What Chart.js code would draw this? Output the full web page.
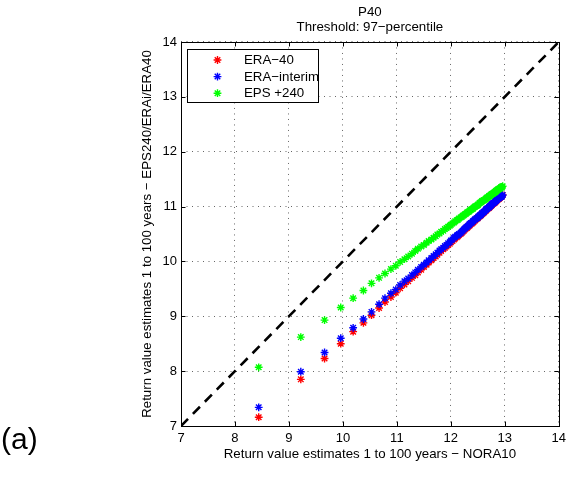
<!DOCTYPE html>
<html>
<head>
<meta charset="utf-8">
<script src="https://cdn.jsdelivr.net/npm/chart.js@4/dist/chart.umd.min.js"></script>
<style>
  html, body { margin: 0; padding: 0; background: #fff; }
  #wrap { position: relative; width: 571px; height: 491px; }
  #panel { position: absolute; left: 1px; top: 422px; font: 30px "Liberation Sans", Arial, sans-serif; color: #000; }
</style>
</head>
<body>
<div id="wrap">
  <canvas id="c" width="571" height="491"></canvas>
  <div id="panel">(a)</div>
</div>
<script>
// Return value estimates for return periods of 1 to 100 years.
// x: NORA10 hindcast; y: ERA-40, ERA-interim and EPS +240 estimates.
const noraX = [
  8.44, 9.22, 9.66, 9.96, 10.19, 10.38, 10.53, 10.67, 10.78, 10.89,
  10.98, 11.06, 11.14, 11.21, 11.28, 11.34, 11.39, 11.45, 11.50, 11.55,
  11.59, 11.64, 11.68, 11.72, 11.75, 11.79, 11.82, 11.86, 11.89, 11.92,
  11.95, 11.98, 12.00, 12.03, 12.06, 12.08, 12.11, 12.13, 12.15, 12.18,
  12.20, 12.22, 12.24, 12.26, 12.28, 12.30, 12.32, 12.34, 12.35, 12.37,
  12.39, 12.41, 12.42, 12.44, 12.45, 12.47, 12.49, 12.50, 12.51, 12.53,
  12.54, 12.56, 12.57, 12.58, 12.60, 12.61, 12.62, 12.64, 12.65, 12.66,
  12.67, 12.68, 12.70, 12.71, 12.72, 12.73, 12.74, 12.75, 12.76, 12.77,
  12.78, 12.80, 12.81, 12.82, 12.83, 12.83, 12.84, 12.85, 12.86, 12.87,
  12.88, 12.89, 12.90, 12.91, 12.92, 12.93, 12.94, 12.94, 12.95, 12.96
];
const era40Y = [
  7.16, 7.85, 8.23, 8.50, 8.72, 8.88, 9.02, 9.15, 9.26, 9.35,
  9.43, 9.51, 9.58, 9.64, 9.70, 9.75, 9.80, 9.85, 9.90, 9.94,
  9.98, 10.02, 10.06, 10.09, 10.12, 10.16, 10.19, 10.22, 10.25, 10.27,
  10.30, 10.32, 10.35, 10.37, 10.40, 10.42, 10.44, 10.46, 10.48, 10.50,
  10.52, 10.54, 10.56, 10.58, 10.60, 10.61, 10.63, 10.65, 10.66, 10.68,
  10.69, 10.71, 10.72, 10.74, 10.75, 10.77, 10.78, 10.79, 10.81, 10.82,
  10.83, 10.84, 10.86, 10.87, 10.88, 10.89, 10.90, 10.92, 10.93, 10.94,
  10.95, 10.96, 10.97, 10.98, 10.99, 11.00, 11.01, 11.02, 11.03, 11.04,
  11.05, 11.06, 11.07, 11.08, 11.09, 11.09, 11.10, 11.11, 11.12, 11.13,
  11.14, 11.14, 11.15, 11.16, 11.17, 11.18, 11.18, 11.19, 11.20, 11.21
];
const eraInterimY = [
  7.34, 7.99, 8.34, 8.60, 8.79, 8.95, 9.08, 9.22, 9.33, 9.42,
  9.49, 9.57, 9.64, 9.69, 9.75, 9.80, 9.85, 9.90, 9.94, 9.98,
  10.02, 10.06, 10.10, 10.13, 10.16, 10.20, 10.22, 10.25, 10.28, 10.30,
  10.33, 10.35, 10.38, 10.40, 10.43, 10.45, 10.47, 10.48, 10.50, 10.52,
  10.54, 10.56, 10.58, 10.60, 10.62, 10.63, 10.65, 10.67, 10.68, 10.70,
  10.71, 10.73, 10.74, 10.76, 10.77, 10.78, 10.79, 10.80, 10.82, 10.83,
  10.84, 10.85, 10.87, 10.88, 10.89, 10.90, 10.91, 10.93, 10.94, 10.95,
  10.96, 10.97, 10.98, 10.99, 11.00, 11.01, 11.02, 11.03, 11.04, 11.05,
  11.06, 11.07, 11.08, 11.09, 11.10, 11.10, 11.11, 11.12, 11.13, 11.14,
  11.15, 11.15, 11.16, 11.17, 11.18, 11.18, 11.18, 11.19, 11.20, 11.21
];
const eps240Y = [
  8.07, 8.62, 8.93, 9.16, 9.33, 9.47, 9.60, 9.70, 9.78, 9.86,
  9.92, 9.99, 10.04, 10.09, 10.14, 10.19, 10.23, 10.27, 10.30, 10.34,
  10.37, 10.40, 10.43, 10.46, 10.49, 10.51, 10.54, 10.56, 10.59, 10.61,
  10.63, 10.65, 10.67, 10.69, 10.71, 10.73, 10.75, 10.76, 10.78, 10.80,
  10.81, 10.83, 10.84, 10.86, 10.87, 10.89, 10.90, 10.91, 10.93, 10.94,
  10.95, 10.96, 10.98, 10.99, 11.00, 11.01, 11.02, 11.03, 11.04, 11.06,
  11.07, 11.08, 11.09, 11.10, 11.11, 11.11, 11.12, 11.13, 11.14, 11.15,
  11.16, 11.17, 11.18, 11.19, 11.19, 11.20, 11.21, 11.22, 11.23, 11.23,
  11.24, 11.25, 11.26, 11.26, 11.27, 11.28, 11.29, 11.29, 11.30, 11.31,
  11.31, 11.32, 11.33, 11.33, 11.34, 11.35, 11.35, 11.36, 11.36, 11.37
];
// 1:1 reference line end points and axis ticks
const diagonal = [7, 14];
const axisTicks = [7, 8, 9, 10, 11, 12, 13, 14];
const seriesLabels = ['ERA\u221240', 'ERA\u2212interim', 'EPS +240'];
const seriesColors = ['#ff0000', '#0000ff', '#00ff00'];

const FONT = '"Liberation Sans", Arial, sans-serif';

function pairs(xs, ys) { return xs.map((x, i) => ({ x: x, y: ys[i] })); }

function starSet(label, ys, color, order) {
  return {
    label: label,
    data: pairs(noraX, ys),
    showLine: false,
    pointStyle: 'star',
    pointRadius: 3.9,
    pointBorderWidth: 1.4,
    borderColor: color,
    backgroundColor: color,
    order: order
  };
}

// Frame, inward tick marks and the boxed legend
const framePlugin = {
  id: 'frame',
  afterDraw(chart) {
    const ctx = chart.ctx;
    const a = chart.chartArea;
    const xs = chart.scales.x, ys = chart.scales.y;
    const tl = 4.5;
    ctx.save();
    ctx.strokeStyle = '#000';
    ctx.lineWidth = 1;
    ctx.beginPath();
    axisTicks.forEach(v => {
      const px = Math.round(xs.getPixelForValue(v)) + 0.5;
      ctx.moveTo(px, a.bottom); ctx.lineTo(px, a.bottom - tl);
      ctx.moveTo(px, a.top); ctx.lineTo(px, a.top + tl);
      const py = Math.round(ys.getPixelForValue(v)) + 0.5;
      ctx.moveTo(a.left, py); ctx.lineTo(a.left + tl, py);
      ctx.moveTo(a.right, py); ctx.lineTo(a.right - tl, py);
    });
    ctx.stroke();
    ctx.strokeRect(Math.round(a.left) + 0.5, Math.round(a.top) + 0.5,
                   Math.round(a.right - a.left), Math.round(a.bottom - a.top));

    // legend box
    const lx = Math.round(a.left) + 6.5, ly = Math.round(a.top) + 7.5;
    const lw = 131, lh = 53;
    ctx.fillStyle = '#fff';
    ctx.fillRect(lx, ly, lw, lh);
    ctx.strokeRect(lx, ly, lw, lh);
    ctx.font = '13.3px ' + FONT;
    ctx.textBaseline = 'middle';
    ctx.textAlign = 'left';
    seriesLabels.forEach((lab, i) => {
      const cy = ly + 10.5 + i * 16.6;
      ctx.strokeStyle = seriesColors[i];
      ctx.lineWidth = 1.4;
      Chart.helpers.drawPoint(ctx, { pointStyle: 'star', radius: 3.9, borderWidth: 1.4, rotation: 0 }, lx + 30, cy);
      ctx.fillStyle = '#000';
      ctx.fillText(lab, lx + 56.5, cy + 0.5);
    });
    ctx.restore();
  }
};

const gridOpts = {
  color: 'rgba(0,0,0,0.6)',
  lineWidth: 1,
  drawTicks: false
};

new Chart(document.getElementById('c'), {
  type: 'scatter',
  data: {
    datasets: [
      starSet(seriesLabels[0], era40Y, seriesColors[0], 4),
      starSet(seriesLabels[1], eraInterimY, seriesColors[1], 3),
      starSet(seriesLabels[2], eps240Y, seriesColors[2], 2),
      {
        label: '1:1',
        data: pairs(diagonal, diagonal),
        showLine: true,
        pointRadius: 0,
        borderColor: '#000',
        borderWidth: 2.6,
        borderDash: [10, 7],
        order: 1
      }
    ]
  },
  options: {
    responsive: false,
    animation: false,
    devicePixelRatio: 1,
    layout: { padding: { left: 135, right: 4, top: 0, bottom: 24.7 } },
    plugins: {
      legend: { display: false },
      tooltip: { enabled: false },
      title: {
        display: true,
        fullSize: false,
        text: ['P40', 'Threshold: 97\u2212percentile'],
        color: '#000',
        font: { family: FONT, size: 13.3, weight: 'normal', lineHeight: 1.1 },
        padding: { top: 5.4, bottom: 7.3 }
      }
    },
    scales: {
      x: {
        type: 'linear', min: 7, max: 14,
        afterBuildTicks(s) { s.ticks = axisTicks.map(v => ({ value: v })); },
        afterFit(s) { s.height = 40.3; },
        grid: gridOpts,
        border: { display: false, dash: [1, 4.5] },
        ticks: { color: '#000', padding: 5, font: { family: FONT, size: 13 }, maxRotation: 0 },
        title: {
          display: true,
          text: 'Return value estimates 1 to 100 years \u2212 NORA10',
          color: '#000',
          font: { family: FONT, size: 13.3 },
          padding: { top: 2, bottom: 4 }
        }
      },
      y: {
        type: 'linear', min: 7, max: 14,
        afterBuildTicks(s) { s.ticks = axisTicks.map(v => ({ value: v })); },
        afterFit(s) { s.width = 46; },
        grid: gridOpts,
        border: { display: false, dash: [1, 4.5] },
        ticks: { color: '#000', padding: 4, font: { family: FONT, size: 13 } },
        title: {
          display: true,
          text: 'Return value estimates 1 to 100 years \u2212 EPS240/ERAi/ERA40',
          color: '#000',
          font: { family: FONT, size: 13.3 },
          padding: { top: 4, bottom: 2 }
        }
      }
    }
  },
  plugins: [framePlugin]
});
</script>
</body>
</html>
